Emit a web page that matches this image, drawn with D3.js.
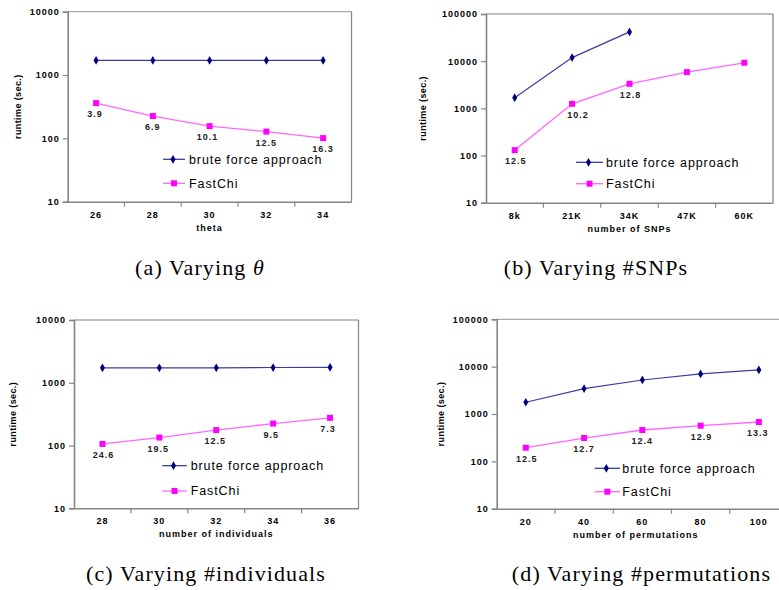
<!DOCTYPE html>
<html><head><meta charset="utf-8">
<script src="https://cdn.jsdelivr.net/npm/d3@7"></script>
<style>
html,body{margin:0;padding:0;background:#fff;}
svg{display:block;}
.tick text{font-family:"Liberation Sans",Arial,sans-serif;font-weight:bold;font-size:9px;letter-spacing:1px;fill:#000;}
</style></head>
<body>
<svg id="chart" width="779" height="590"></svg>
<script>
// ---- data ----
const seriesNames = ["brute force approach", "FastChi"];

const catsA = ["26","28","30","32","34"];
const bruteA = [1700,1700,1700,1700,1700];
const fastA = [360,225,156,128,101];
const labelsA = ["3.9","6.9","10.1","12.5","16.3"];

const catsB = ["8k","21K","34K","47K","60K"];
const bruteB = [1680,11900,41700,null,null];
const fastB = [130,1250,3320,5870,9250];
const labelsB = ["12.5","10.2","12.8",null,null];

const catsC = ["28","30","32","34","36"];
const bruteC = [1730,1730,1730,1750,1760];
const fastC = [106,134,176,224,276];
const labelsC = ["24.6","19.5","12.5","9.5","7.3"];

const catsD = ["20","40","60","80","100"];
const bruteD = [1770,3430,5230,7020,8510];
const fastD = [194,311,459,566,678];
const labelsD = ["12.5","12.7","12.4","12.9","13.3"];

const ticks4 = [10,100,1000,10000];
const ticks5 = [10,100,1000,10000,100000];

const xTitles = ["theta","number of SNPs","number of individuals","number of permutations"];
const yTitle = "runtime (sec.)";
const captions = [
  ["(a) Varying ", "θ"],
  ["(b) Varying #SNPs", null],
  ["(c) Varying #individuals", null],
  ["(d) Varying #permutations", null]
];

// ---- layout ----
const panels = [
  {cats:catsA, brute:bruteA, fast:fastA, labels:labelsA, ticks:ticks4,
   l:67.7, r:351.5, t:11.7, b:201.7, yTitleX:18.3, leg:{x0:163,x1:185,y:159.3,tx:189,gap:24},
   cap:{x:200,y:275}, labDx:[-1,0,-2,0,0]},
  {cats:catsB, brute:bruteB, fast:fastB, labels:labelsB, ticks:ticks5,
   l:486, r:773, t:14, b:202.7, yTitleX:423.3, leg:{x0:576,x1:603,y:162.3,tx:606,gap:21.4},
   cap:{x:596,y:275}, labDx:[1,6,1,0,0]},
  {cats:catsC, brute:bruteC, fast:fastC, labels:labelsC, ticks:ticks4,
   l:74, r:358.5, t:320, b:508.3, yTitleX:12.7, leg:{x0:162.3,x1:186.7,y:465.7,tx:190.7,gap:25.3},
   cap:{x:206,y:581}, labDx:[1,-1,-1,-2,-2]},
  {cats:catsD, brute:bruteD, fast:fastD, labels:labelsD, ticks:ticks5,
   l:496.7, r:788, t:319.3, b:508.7, yTitleX:440.7, leg:{x0:594.7,x1:620,y:468.3,tx:622.3,gap:23.4},
   cap:{x:641.5,y:581}, labDx:[1,0,0,1,-1]}
];

const svg = d3.select("#chart");
const bruteLine = "#3c3ca0", bruteMark = "#000080";
const fastLine = "#ff66ff", fastMark = "#ff00ff";
const axisCol = "#858585";

panels.forEach((p, i) => {
  const g = svg.append("g");
  const x = d3.scaleBand().domain(p.cats).range([p.l, p.r]).paddingInner(0).paddingOuter(0);
  const y = d3.scaleLog().domain([p.ticks[0], p.ticks[p.ticks.length-1]]).range([p.b, p.t]);
  const cx = c => x(c) + x.bandwidth()/2;

  // frame top/right
  g.append("line").attr("x1",p.l).attr("x2",p.r).attr("y1",p.t).attr("y2",p.t)
    .attr("stroke","#a8a8a8").attr("stroke-width",1.3);
  g.append("line").attr("x1",p.r).attr("x2",p.r).attr("y1",p.t).attr("y2",p.b)
    .attr("stroke","#8a8a8a").attr("stroke-width",1.3);

  // y axis
  const ya = g.append("g").attr("transform",`translate(${p.l},0)`)
    .call(d3.axisLeft(y).tickValues(p.ticks).tickFormat(d3.format("d")).tickSize(5).tickPadding(3));
  ya.select(".domain").attr("stroke",axisCol).attr("stroke-width",1.6);
  ya.selectAll(".tick line").attr("stroke",axisCol).attr("stroke-width",1.2);

  // x axis
  const xa = g.append("g").attr("transform",`translate(0,${p.b})`)
    .call(d3.axisBottom(x).tickSize(0).tickPadding(12).tickSizeOuter(0));
  xa.select(".domain").attr("stroke",axisCol).attr("stroke-width",1.6);
  xa.selectAll(".tick text").attr("dy","0.45em");
  // category boundary ticks
  g.selectAll(".xb").data(p.cats.slice(1)).enter().append("line")
    .attr("x1",d=>x(d)).attr("x2",d=>x(d)).attr("y1",p.b).attr("y2",p.b+5)
    .attr("stroke",axisCol).attr("stroke-width",1.2);

  // titles
  g.append("text").attr("x",(p.l+Math.min(p.r,779))/2 + (i===3?-2:0)).attr("y",p.b+29)
    .attr("text-anchor","middle")
    .style("font-family","Liberation Sans, Arial, sans-serif").style("font-weight","bold")
    .style("font-size","9px").style("letter-spacing","1px").text(xTitles[i]);
  g.append("text")
    .attr("transform",`translate(${p.yTitleX},${(p.t+p.b)/2}) rotate(-90)`)
    .attr("text-anchor","middle").attr("dy","0.35em")
    .style("font-family","Liberation Sans, Arial, sans-serif").style("font-weight","bold")
    .style("font-size","9px").style("letter-spacing","0.4px").text(yTitle);

  // series
  const bd = p.cats.map((c,k)=>({c, v:p.brute[k]})).filter(d=>d.v!=null);
  const fd = p.cats.map((c,k)=>({c, v:p.fast[k], lab:p.labels[k], k}));
  const line = d3.line().x(d=>cx(d.c)).y(d=>y(d.v));
  g.append("path").datum(bd).attr("d",line).attr("fill","none")
    .attr("stroke",bruteLine).attr("stroke-width",1.2);
  g.append("path").datum(fd).attr("d",line).attr("fill","none")
    .attr("stroke",fastLine).attr("stroke-width",1.3);
  const diamond = d3.symbol().type(d3.symbolDiamond).size(22);
  const square = d3.symbol().type(d3.symbolSquare).size(36);
  g.selectAll(".bm").data(bd).enter().append("path").attr("d",diamond)
    .attr("transform",d=>`translate(${cx(d.c)},${y(d.v)})`).attr("fill",bruteMark);
  g.selectAll(".fm").data(fd).enter().append("path").attr("d",square)
    .attr("transform",d=>`translate(${cx(d.c)},${y(d.v)})`).attr("fill",fastMark);

  // data labels
  g.selectAll(".dl").data(fd.filter(d=>d.lab!=null)).enter().append("text")
    .attr("x",d=>cx(d.c)+p.labDx[d.k]).attr("y",d=>y(d.v)+11).attr("dy","0.35em")
    .attr("text-anchor","middle")
    .style("font-family","Liberation Sans, Arial, sans-serif").style("font-weight","bold")
    .style("font-size","9px").style("letter-spacing","1px").attr("fill","#222")
    .text(d=>d.lab);

  // legend
  const L = p.leg;
  [0,1].forEach(s => {
    const yy = L.y + s*L.gap;
    g.append("line").attr("x1",L.x0).attr("x2",L.x1).attr("y1",yy).attr("y2",yy)
      .attr("stroke", s===0?bruteLine:fastLine).attr("stroke-width",1.3);
    g.append("path").attr("d", s===0?diamond:square)
      .attr("transform",`translate(${(L.x0+L.x1)/2 + (s===0?-1:0)},${yy})`)
      .attr("fill", s===0?bruteMark:fastMark);
    g.append("text").attr("x",L.tx).attr("y",yy).attr("dy","0.35em")
      .style("font-family","Liberation Sans, Arial, sans-serif")
      .style("font-size","12.5px").style("letter-spacing","0.9px").attr("fill","#000")
      .text(seriesNames[s]);
  });

  // caption
  const cap = svg.append("text").attr("x",p.cap.x).attr("y",p.cap.y).attr("text-anchor","middle")
    .style("font-family","Liberation Serif, 'Times New Roman', serif")
    .style("font-size","22px").style("letter-spacing","1.1px").attr("fill","#000");
  cap.append("tspan").text(captions[i][0]);
  if (captions[i][1]) cap.append("tspan").style("font-style","italic").text(captions[i][1]);
});
</script>
</body></html>
